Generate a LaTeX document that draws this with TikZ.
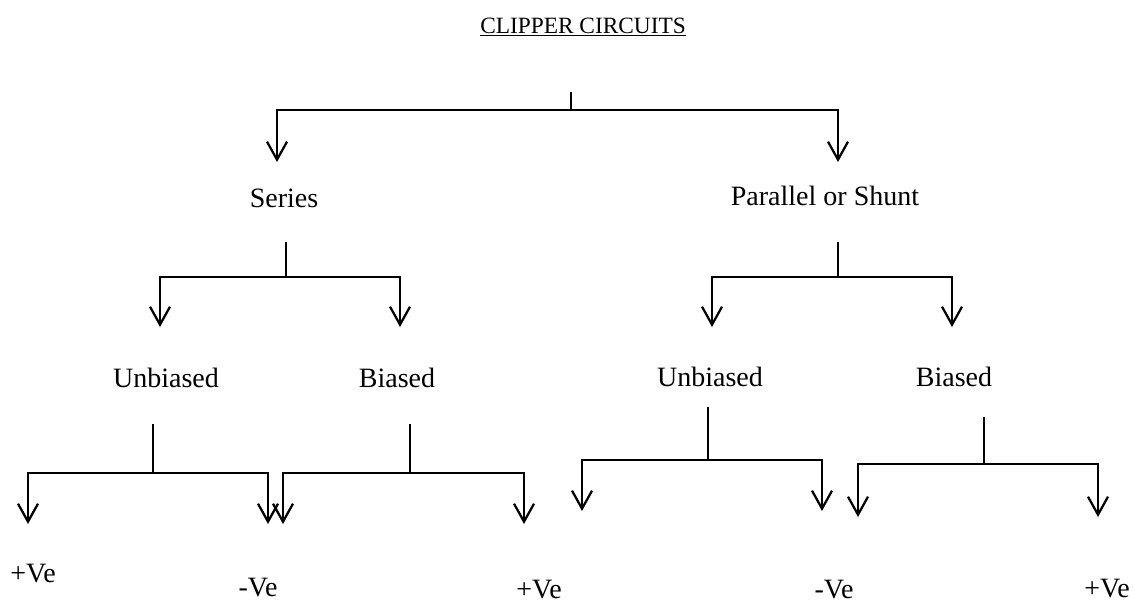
\documentclass[tikz,border=0pt]{standalone}
\usepackage{fontspec}
\setmainfont{Liberation Serif}
\usetikzlibrary{arrows.meta}

\begin{document}
\begin{tikzpicture}[x=0.75pt, y=-0.75pt,
    term/.style={anchor=base, inner sep=0pt, font=\fontsize{21}{25}\selectfont},
    heading/.style={anchor=base, inner sep=0pt, font=\fontsize{17.5}{21}\selectfont},
    stem/.style={line width=1.7pt},
    arrow/.style={-{Straight Barb[length=13.5pt, width=15pt]}, line width=1.7pt}
]
\useasboundingbox (0,0) rectangle (1135,603);

\node[heading] (title) at (583,33) {\underline{CLIPPER CIRCUITS}};

% labels
\node[term] (series) at (284,207) {Series};
\node[term] (shunt) at (825,205) {Parallel or Shunt};
\node[term] (sunb) at (166,387) {Unbiased};
\node[term] (sbias) at (397,387) {Biased};
\node[term] (punb) at (710,386) {Unbiased};
\node[term] (pbias) at (954,386) {Biased};
\node[term] (sunbpos) at (33,582) {+Ve};
\node[term] (sunbneg) at (258,596) {-Ve};
\node[term] (sbiaspos) at (539,598) {+Ve};
\node[term] (punbneg) at (834,598) {-Ve};
\node[term] (pbiaspos) at (1107,597) {+Ve};

% branch points
\coordinate (roottop) at (571,92);
\coordinate (rootj) at (571,110);
\coordinate (seriesin) at (277,162);
\coordinate (shuntin) at (838,162);

\coordinate (seriestop) at (286,242);
\coordinate (seriesj) at (286,277);
\coordinate (sunbin) at (160,327);
\coordinate (sbiasin) at (400,327);

\coordinate (shunttop) at (838,242);
\coordinate (shuntj) at (838,277);
\coordinate (punbin) at (712,327);
\coordinate (pbiasin) at (952,327);

\coordinate (sunbtop) at (153,424);
\coordinate (sunbj) at (153,473);
\coordinate (sunbposin) at (28,524);
\coordinate (sunbnegin) at (268,524);

\coordinate (sbiastop) at (410,424);
\coordinate (sbiasj) at (410,473);
\coordinate (sbiasnegin) at (283,524);
\coordinate (sbiasposin) at (524,524);

\coordinate (punbtop) at (708,407);
\coordinate (punbj) at (708,460);
\coordinate (punbposin) at (582,511);
\coordinate (punbnegin) at (822,511);

\coordinate (pbiastop) at (984,417);
\coordinate (pbiasj) at (984,464);
\coordinate (pbiasnegin) at (858,517);
\coordinate (pbiasposin) at (1098,517);

% connectors
\draw[stem] (roottop) -- (rootj);
\draw[arrow] (rootj) -| (seriesin);
\draw[arrow] (rootj) -| (shuntin);

\draw[stem] (seriestop) -- (seriesj);
\draw[arrow] (seriesj) -| (sunbin);
\draw[arrow] (seriesj) -| (sbiasin);

\draw[stem] (shunttop) -- (shuntj);
\draw[arrow] (shuntj) -| (punbin);
\draw[arrow] (shuntj) -| (pbiasin);

\draw[stem] (sunbtop) -- (sunbj);
\draw[arrow] (sunbj) -| (sunbposin);
\draw[arrow] (sunbj) -| (sunbnegin);

\draw[stem] (sbiastop) -- (sbiasj);
\draw[arrow] (sbiasj) -| (sbiasnegin);
\draw[arrow] (sbiasj) -| (sbiasposin);

\draw[stem] (punbtop) -- (punbj);
\draw[arrow] (punbj) -| (punbposin);
\draw[arrow] (punbj) -| (punbnegin);

\draw[stem] (pbiastop) -- (pbiasj);
\draw[arrow] (pbiasj) -| (pbiasnegin);
\draw[arrow] (pbiasj) -| (pbiasposin);

\end{tikzpicture}
\end{document}
